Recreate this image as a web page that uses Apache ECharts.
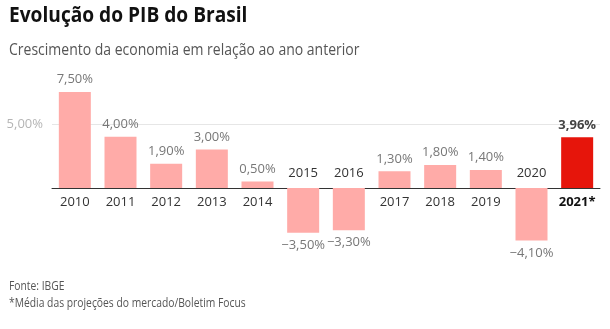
<!DOCTYPE html>
<html><head><meta charset="utf-8">
<script src="https://cdn.jsdelivr.net/npm/echarts@6/dist/echarts.min.js"></script>
<style>html,body{margin:0;padding:0;background:#fff;}#c{width:610px;height:329px;}</style>
</head><body><div id="c"></div>
<script>
const categories = ['2010','2011','2012','2013','2014','2015','2016','2017','2018','2019','2020','2021*'];
const values = [7.5, 4.0, 1.9, 3.0, 0.5, -3.5, -3.3, 1.3, 1.8, 1.4, -4.1, 3.96];
const yTicks = [5];
const FONT = '"Open Sans", "Noto Sans", sans-serif';
const fmt = v => v.toFixed(2).replace('.', ',').replace('-', '\u2212') + '%';
const pink = '#ffaba8', red = '#e6150b';
const lastIdx = categories.length - 1;

const chart = echarts.init(document.getElementById('c'), null, {renderer: 'canvas'});
const txt = (text, x, y, size, weight, color, sx) => ({
  type: 'text', x: x, y: y, scaleX: sx, scaleY: 1,
  style: {text: text, fontFamily: FONT, fontSize: size, fontWeight: weight, fill: color, textVerticalAlign: 'top', lineHeight: 17}
});
chart.setOption({
  animation: false,
  textStyle: {fontFamily: FONT},
  graphic: [
    txt('Evolução do PIB do Brasil', 9, 7, 22, 'bold', '#111', 0.87),
    txt('Crescimento da economia em relação ao ano anterior', 9, 42, 16, 'normal', '#555', 0.875),
    txt('Fonte: IBGE\n*Média das projeções do mercado/Boletim Focus', 9, 278, 12, 'normal', '#555', 0.86)
  ],
  grid: {left: 52, right: 10, top: 60, bottom: 77},
  xAxis: {
    type: 'category', data: categories,
    axisLine: {show: true, onZero: true, lineStyle: {color: '#333', width: 1}},
    axisTick: {show: false}, axisLabel: {show: false}
  },
  yAxis: {
    type: 'value', min: -5, max: 10, interval: 5,
    splitLine: {show: false}, axisLine: {show: false}, axisTick: {show: false},
    axisLabel: {
      margin: 9, color: '#b5b5b5', fontSize: 13, fontFamily: FONT,
      formatter: v => yTicks.includes(v) ? fmt(v) : ''
    }
  },
  series: [
    {
      type: 'bar', barWidth: 32, barGap: '-100%', z: 2,
      data: values.map((v, i) => ({
        value: v,
        itemStyle: {color: i === lastIdx ? red : pink},
        label: {
          show: true, position: v >= 0 ? 'top' : 'bottom', distance: 6,
          formatter: fmt(v), fontFamily: FONT, fontSize: 13,
          color: i === lastIdx ? '#444' : '#777',
          fontWeight: i === lastIdx ? 'bold' : 'normal'
        }
      })),
      markLine: {
        silent: true, symbol: 'none', z: 1,
        lineStyle: {color: '#e6e6e6', width: 1, type: 'solid'},
        label: {show: false},
        data: yTicks.map(t => ({yAxis: t}))
      }
    },
    {
      type: 'bar', barWidth: 32, z: 3,
      itemStyle: {color: 'transparent'},
      data: values.map((v, i) => ({
        value: 0,
        label: {
          show: true, position: v >= 0 ? 'bottom' : 'top', distance: 8,
          formatter: categories[i], fontFamily: FONT, fontSize: 13,
          color: i === lastIdx ? '#111' : '#333',
          fontWeight: i === lastIdx ? 'bold' : 'normal'
        }
      }))
    }
  ]
});
</script></body></html>
